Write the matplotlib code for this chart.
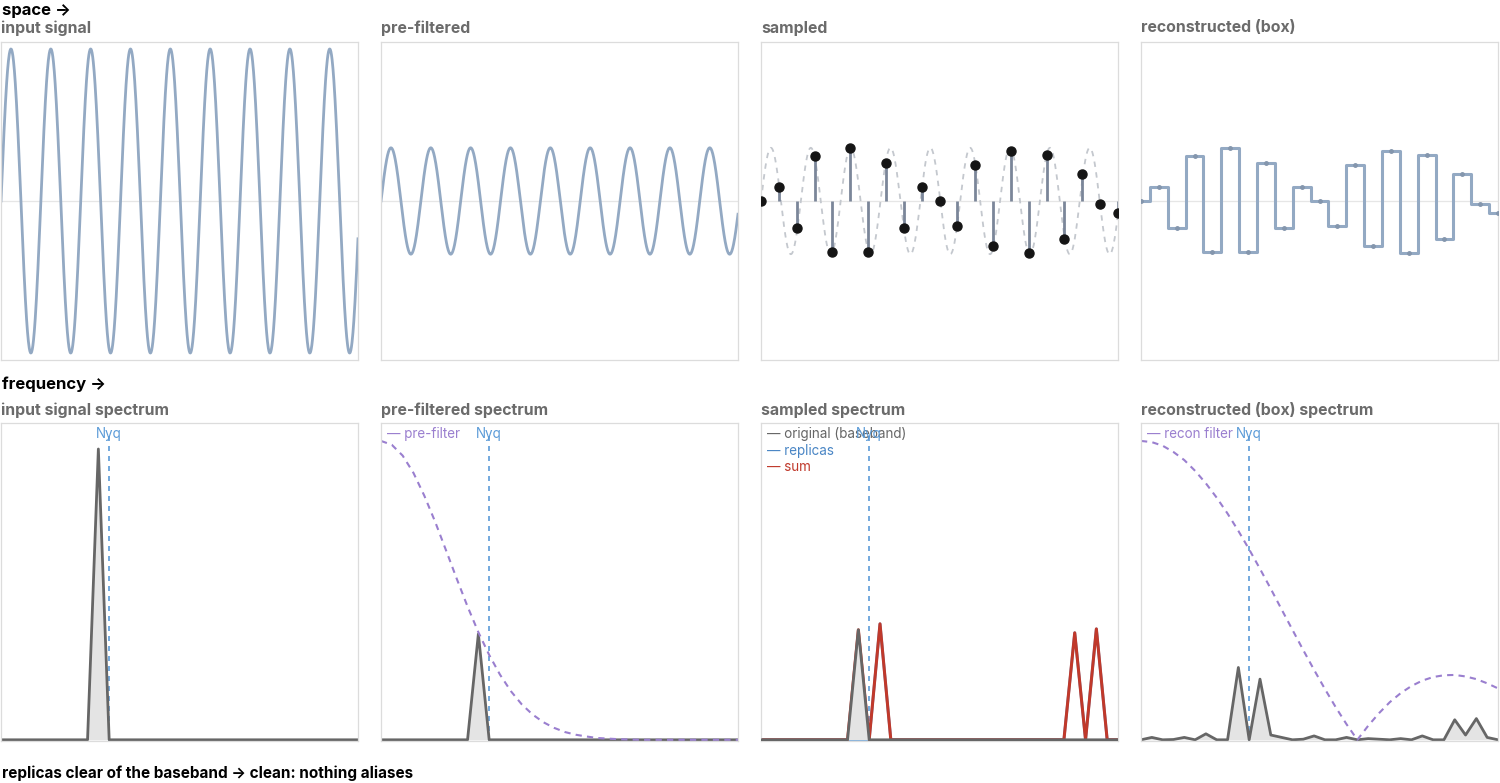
import matplotlib
matplotlib.use("Agg")
import numpy as np
import matplotlib.pyplot as plt

plt.rcParams['font.family'] = ['Inter', 'DejaVu Sans']

# --- signal parameters ---
cycles = 8.96            # cycles across the panel
input_amp = 1.0
prefilt_amp = 0.35

samples = [0.0, 0.090, -0.180, 0.296, -0.336, 0.347, -0.336, 0.250, -0.180, 0.090,
           0.0, -0.167, 0.237, -0.298, 0.331, -0.340, 0.305, -0.252, 0.175, -0.018, -0.079]

# --- spectra, one value per frequency bin 0..33 (Nyquist at bin 10) ---
bins = list(range(34))
nyq = 10

input_spec = [0.0] * 34
input_spec[9] = 0.973

prefilt_spec = [0.0] * 34
prefilt_spec[9] = 0.354

pre_filter = [1.0, 0.987, 0.951, 0.893, 0.817, 0.730, 0.635, 0.539, 0.446, 0.360,
              0.284, 0.218, 0.163, 0.119, 0.085, 0.059, 0.040, 0.026, 0.017, 0.011,
              0.006, 0.004, 0.002, 0.001, 0.0, 0.0, 0.0, 0.0, 0.0, 0.0, 0.0, 0.0, 0.0, 0.0]

sampled_orig = [0.0] * 34
sampled_orig[9] = 0.368
replicas = [0.0] * 34
replicas[11] = 0.388
replicas[29] = 0.358
replicas[31] = 0.371
sampled_sum = [a + b for a, b in zip(sampled_orig, replicas)]

recon_filter = [1.0, 0.996, 0.984, 0.963, 0.936, 0.900, 0.858, 0.810, 0.757, 0.699,
                0.637, 0.572, 0.505, 0.436, 0.368, 0.300, 0.234, 0.170, 0.109, 0.052,
                0.0, 0.047, 0.089, 0.126, 0.156, 0.180, 0.198, 0.210, 0.216, 0.217,
                0.212, 0.203, 0.189, 0.172]

recon_spec = [0.0, 0.008, 0.0, 0.001, 0.008, 0.0, 0.020, 0.0, 0.0, 0.242,
              0.0, 0.203, 0.016, 0.008, 0.0, 0.002, 0.013, 0.0, 0.0, 0.008,
              0.0, 0.004, 0.002, 0.0, 0.004, 0.0, 0.013, 0.0, 0.0, 0.067,
              0.016, 0.071, 0.008, 0.0]

# colours
SIG = '#93a9c3'
STEM = '#7b8699'
GRID = '#e6e6e6'
FRAME = '#dcdcdc'
TITLE = '#6b6b6b'
GRAY = '#666666'
FILL = '#e4e4e4'
NYQ = '#5b9bd8'
PURPLE = '#9a7fcf'
RED = '#c0392b'

W, H = 1500, 783
fig = plt.figure(figsize=(W / 100, H / 100), dpi=100)

lefts = [1, 381, 761, 1141]
pw = 357


def make_ax(left, top, bottom):
    ax = fig.add_axes([left / W, 1 - bottom / H, pw / W, (bottom - top) / H])
    ax.set_xticks([])
    ax.set_yticks([])
    for s in ax.spines.values():
        s.set_color(FRAME)
        s.set_linewidth(0.9)
    return ax


def top_ax(i):
    ax = make_ax(lefts[i], 42, 360)
    ax.set_xlim(0, 1)
    ax.set_ylim(-1.046, 1.046)
    ax.axhline(0, color=GRID, lw=0.9, zorder=0)
    return ax


def bot_ax(i):
    ax = make_ax(lefts[i], 423, 741)
    ax.set_xlim(0, 33)
    ax.set_ylim(-0.004, 1.06)
    ax.axvline(nyq, ymax=0.975, color=NYQ, lw=1.2, ls=(0, (3, 3)), zorder=1)
    ax.text(nyq, 1.045, 'Nyq', color=NYQ, fontsize=9.7, ha='center', va='top', zorder=6)
    return ax


t = np.linspace(0, 1, 1200)
wave = np.sin(2 * np.pi * cycles * t)
ts = np.arange(len(samples)) / (len(samples) - 1)

# --- space row ---
ax = top_ax(0)
ax.plot(t, input_amp * wave, color=SIG, lw=2)

ax = top_ax(1)
ax.plot(t, prefilt_amp * wave, color=SIG, lw=2)

ax = top_ax(2)
ax.plot(t, prefilt_amp * wave, color='#c4c8ce', lw=1.3, ls=(0, (3, 3)))
ax.vlines(ts, 0, samples, color=STEM, lw=2)
ax.plot(ts, samples, 'o', color='#151515', ms=6.5, zorder=5)

ax = top_ax(3)
ax.step(ts, samples, where='mid', color=SIG, lw=2.2)
ax.plot(ts, samples, 'o', color='#8496ad', ms=2.5, zorder=5)

# --- frequency row ---
ax = bot_ax(0)
ax.fill_between(bins, input_spec, 0, color=FILL, lw=0)
ax.plot(bins, input_spec, color=GRAY, lw=2)

ax = bot_ax(1)
ax.fill_between(bins, prefilt_spec, 0, color=FILL, lw=0)
ax.plot(bins, prefilt_spec, color=GRAY, lw=2)
ax.plot(bins, pre_filter, color=PURPLE, lw=1.5, ls=(0, (3, 2.5)))
ax.text(0.6, 1.045, '— pre-filter', color=PURPLE, fontsize=9.7, va='top')

ax = bot_ax(2)
ax.plot(bins, replicas, color=NYQ, lw=2)
ax.plot(bins, sampled_sum, color=RED, lw=2.2)
ax.fill_between(bins, sampled_orig, 0, color=FILL, lw=0, zorder=3)
ax.plot(bins, sampled_orig, color=GRAY, lw=2, zorder=4)
ax.text(0.6, 1.045, '— original (baseband)', color=GRAY, fontsize=9.7, va='top', zorder=5)
ax.text(0.6, 0.99, '— replicas', color='#4a86c5', fontsize=9.7, va='top')
ax.text(0.6, 0.935, '— sum', color=RED, fontsize=9.7, va='top')

ax = bot_ax(3)
ax.fill_between(bins, recon_spec, 0, color=FILL, lw=0)
ax.plot(bins, recon_spec, color=GRAY, lw=2)
ax.plot(bins, recon_filter, color=PURPLE, lw=1.5, ls=(0, (3, 2.5)))
ax.text(0.6, 1.045, '— recon filter', color=PURPLE, fontsize=9.7, va='top')

# --- titles ---
top_titles = ['input signal', 'pre-filtered', 'sampled', 'reconstructed (box)']
bot_titles = ['input signal spectrum', 'pre-filtered spectrum', 'sampled spectrum',
              'reconstructed (box) spectrum']
for i in range(4):
    fig.text(lefts[i] / W, 1 - 28 / H, top_titles[i], color=TITLE, fontsize=11.4,
             fontweight='bold', va='center')
    fig.text(lefts[i] / W, 1 - 410 / H, bot_titles[i], color=TITLE, fontsize=11.4,
             fontweight='bold', va='center')

fig.text(2 / W, 1 - 10 / H, 'space →', fontsize=12, fontweight='bold', va='center')
fig.text(2 / W, 1 - 384 / H, 'frequency →', fontsize=12, fontweight='bold', va='center')
fig.text(2 / W, 1 - 773 / H, 'replicas clear of the baseband → clean: nothing aliases',
         fontsize=11, fontweight='bold', va='center')

fig.savefig('out.png', dpi=100)
